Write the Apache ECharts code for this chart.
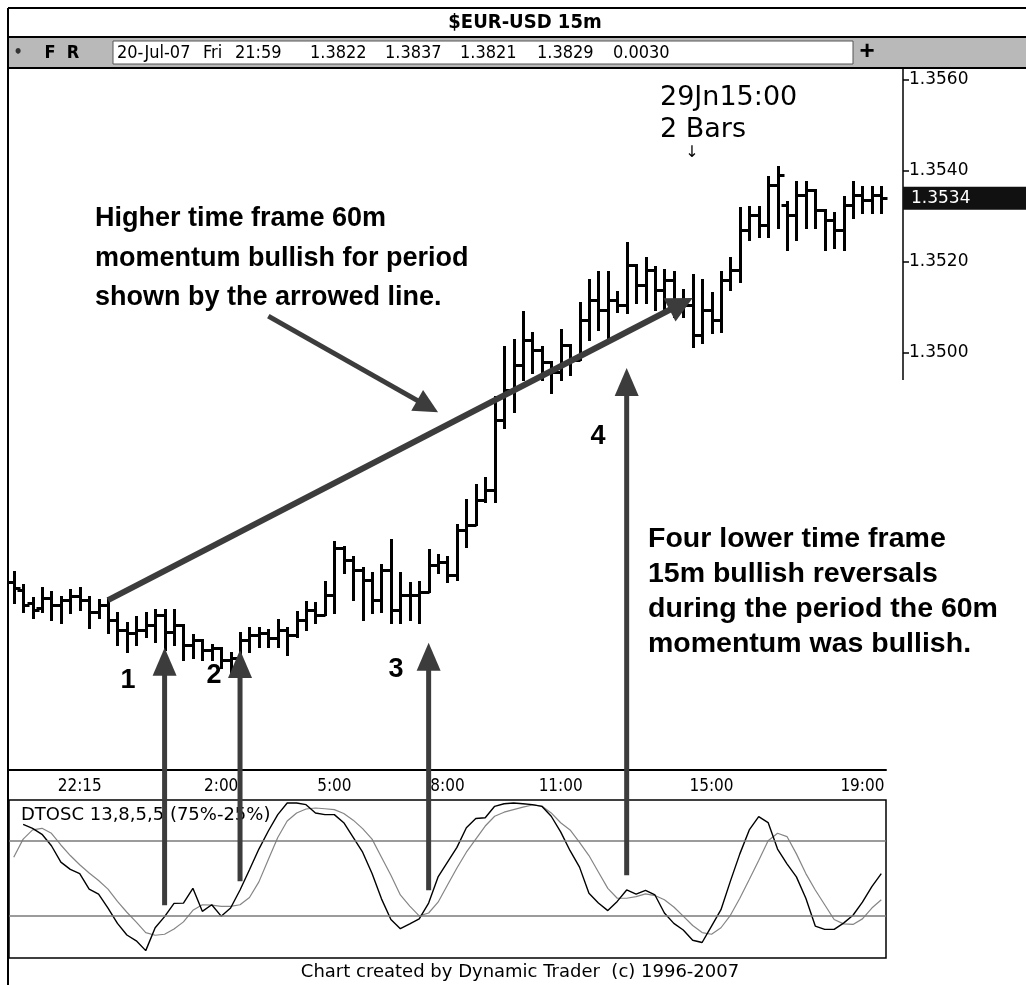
<!DOCTYPE html>
<html>
<head>
<meta charset="utf-8">
<script src="https://cdn.jsdelivr.net/npm/echarts@6/dist/echarts.min.js"></script>
<style>
  html, body { margin: 0; padding: 0; background: #fff; }
  #chart { width: 1026px; height: 985px; }
</style>
</head>
<body>
<div id="chart"></div>
<script>
// 15 minute bars, EUR/USD
var opens = [
  1.34497, 1.34479, 1.34451, 1.34440, 1.34462, 1.34446, 1.34457, 1.34466, 1.34457, 1.34431,
  1.34446, 1.34413, 1.34391, 1.34385, 1.34391, 1.34402, 1.34424, 1.34387, 1.34402, 1.34358,
  1.34369, 1.34347, 1.34352, 1.34325, 1.34330, 1.34369, 1.34380, 1.34385, 1.34374, 1.34391,
  1.34380, 1.34413, 1.34435, 1.34424, 1.34468, 1.34571, 1.34545, 1.34523, 1.34501, 1.34457,
  1.34523, 1.34435, 1.34468, 1.34468, 1.34475, 1.34534, 1.34541, 1.34512, 1.34611, 1.34622,
  1.34677, 1.34699, 1.34853, 1.34919, 1.34974, 1.35029, 1.35007, 1.34980, 1.34958, 1.35018,
  1.34985, 1.35073, 1.35116, 1.35095, 1.35116, 1.35105, 1.35193, 1.35149, 1.35182, 1.35138,
  1.35160, 1.35116, 1.35105, 1.35040, 1.35095, 1.35073, 1.35160, 1.35182, 1.35270, 1.35303,
  1.35281, 1.35369, 1.35325, 1.35303, 1.35347, 1.35358, 1.35314, 1.35292, 1.35270, 1.35325,
  1.35347, 1.35336, 1.35347
];
var highs = [
  1.34519, 1.34490, 1.34462, 1.34484, 1.34475, 1.34464, 1.34479, 1.34484, 1.34464, 1.34457,
  1.34462, 1.34429, 1.34407, 1.34420, 1.34429, 1.34435, 1.34435, 1.34435, 1.34402, 1.34380,
  1.34369, 1.34358, 1.34352, 1.34341, 1.34385, 1.34396, 1.34396, 1.34391, 1.34413, 1.34396,
  1.34431, 1.34453, 1.34451, 1.34497, 1.34585, 1.34574, 1.34552, 1.34527, 1.34516, 1.34534,
  1.34589, 1.34516, 1.34495, 1.34497, 1.34567, 1.34556, 1.34552, 1.34622, 1.34677, 1.34710,
  1.34725, 1.34903, 1.35013, 1.35029, 1.35090, 1.35044, 1.35013, 1.34980, 1.35051, 1.35018,
  1.35110, 1.35160, 1.35178, 1.35178, 1.35134, 1.35242, 1.35193, 1.35209, 1.35189, 1.35182,
  1.35178, 1.35138, 1.35171, 1.35160, 1.35132, 1.35178, 1.35209, 1.35319, 1.35321, 1.35321,
  1.35387, 1.35409, 1.35332, 1.35376, 1.35376, 1.35358, 1.35314, 1.35308, 1.35343, 1.35376,
  1.35365, 1.35365, 1.35365
];
var lows = [
  1.34451, 1.34431, 1.34418, 1.34431, 1.34413, 1.34407, 1.34429, 1.34435, 1.34396, 1.34418,
  1.34385, 1.34358, 1.34343, 1.34358, 1.34376, 1.34365, 1.34347, 1.34358, 1.34325, 1.34330,
  1.34325, 1.34325, 1.34308, 1.34297, 1.34319, 1.34343, 1.34354, 1.34354, 1.34354, 1.34336,
  1.34376, 1.34391, 1.34407, 1.34424, 1.34429, 1.34516, 1.34457, 1.34413, 1.34429, 1.34431,
  1.34407, 1.34407, 1.34413, 1.34407, 1.34475, 1.34516, 1.34497, 1.34501, 1.34574, 1.34622,
  1.34673, 1.34673, 1.34835, 1.34870, 1.34941, 1.34956, 1.34941, 1.34912, 1.34941, 1.34952,
  1.34985, 1.35029, 1.35051, 1.35033, 1.35090, 1.35088, 1.35110, 1.35110, 1.35095, 1.35088,
  1.35079, 1.35079, 1.35013, 1.35022, 1.35044, 1.35046, 1.35138, 1.35156, 1.35248, 1.35255,
  1.35255, 1.35275, 1.35226, 1.35248, 1.35275, 1.35275, 1.35226, 1.35231, 1.35226, 1.35297,
  1.35308, 1.35308, 1.35308
];
var closes = [
  1.34484, 1.34446, 1.34435, 1.34462, 1.34446, 1.34457, 1.34466, 1.34457, 1.34431, 1.34446,
  1.34413, 1.34391, 1.34385, 1.34391, 1.34402, 1.34424, 1.34387, 1.34402, 1.34358, 1.34369,
  1.34347, 1.34352, 1.34325, 1.34330, 1.34369, 1.34380, 1.34385, 1.34374, 1.34391, 1.34380,
  1.34413, 1.34435, 1.34424, 1.34468, 1.34571, 1.34545, 1.34523, 1.34501, 1.34457, 1.34523,
  1.34435, 1.34468, 1.34468, 1.34475, 1.34534, 1.34541, 1.34512, 1.34611, 1.34622, 1.34677,
  1.34699, 1.34853, 1.34919, 1.34974, 1.35029, 1.35007, 1.34980, 1.34958, 1.35018, 1.34985,
  1.35073, 1.35116, 1.35095, 1.35116, 1.35105, 1.35193, 1.35149, 1.35182, 1.35138, 1.35160,
  1.35116, 1.35105, 1.35040, 1.35095, 1.35073, 1.35160, 1.35182, 1.35270, 1.35303, 1.35281,
  1.35369, 1.35391, 1.35303, 1.35347, 1.35358, 1.35314, 1.35292, 1.35270, 1.35325, 1.35347,
  1.35336, 1.35347, 1.35340
];

// DTOSC 13,8,5,5 - fast (black) and slow (gray) lines
var oscFast = [
  null, 85.8, 83.2, 79.2, 71.6, 60.7, 55.9, 53.1, 42.8, 39.4,
  30.2, 20.0, 12.3, 8.4, 1.9, 17.1, 24.5, 33.3, 33.5, 43.3,
  28.0, 32.4, 24.8, 30.2, 42.2, 55.7, 69.4, 81.4, 92.3, 100,
  100, 98.9, 93.4, 92.3, 92.3, 86.9, 77.1, 67.3, 53.1, 36.3,
  22.6, 16.5, 19.7, 23.0, 33.5, 50.9, 60.7, 70.5, 83.6, 89.7,
  90.2, 97.8, 99.5, 100, 99.5, 98.9, 97.8, 91.2, 80.8, 68.3,
  57.4, 40.0, 33.5, 28.5, 34.6, 42.2, 39.4, 42.0, 38.9, 26.9,
  20.0, 15.6, 8.8, 7.3, 18.2, 29.1, 48.1, 66.2, 82.1, 91.0,
  87.0, 69.4, 59.6, 50.9, 36.7, 18.2, 16.0, 16.0, 20.2, 25.4,
  34.1, 44.4, 53.1
];
var oscSlow = [
  64.0, 76.0, 82.1, 83.2, 79.9, 72.1, 65.1, 59.0, 53.5, 48.5,
  42.8, 34.6, 27.4, 20.8, 13.9, 12.1, 12.8, 16.3, 21.0, 28.7,
  32.4, 32.2, 31.3, 31.3, 32.4, 37.2, 47.6, 62.5, 77.1, 88.0,
  93.4, 96.0, 96.7, 96.2, 95.6, 93.0, 88.6, 83.0, 76.0, 64.0,
  52.0, 38.9, 31.5, 25.0, 26.9, 34.1, 45.5, 56.8, 67.3, 76.0,
  84.7, 91.2, 93.9, 95.6, 97.3, 98.7, 98.0, 93.4, 86.9, 82.1,
  73.8, 65.1, 54.2, 43.3, 36.7, 36.7, 37.8, 39.6, 38.5, 35.7,
  30.9, 24.8, 18.6, 13.9, 12.8, 17.1, 25.4, 36.7, 49.2, 61.8,
  74.9, 79.9, 77.7, 66.2, 53.1, 42.2, 32.4, 22.6, 19.7, 19.3,
  23.0, 30.2, 35.7
];
var oscLevels = [75, 25];

// time axis: first bar 20:30, 15 minute steps
var times = [];
for (var i = 0; i < closes.length; i++) {
  var m = 20 * 60 + 30 + i * 15;
  var hh = Math.floor(m / 60) % 24, mm = m % 60;
  times.push(hh + ':' + (mm < 10 ? '0' : '') + mm);
}
var timeLabels = ['22:15', '2:00', '5:00', '8:00', '11:00', '15:00', '19:00'];
var timeTicks = [4, 7, 10, 12, 15, 18, 21, 23, 27, 30, 33, 35, 38, 41, 43, 46, 49, 52, 55, 58, 61, 63, 67, 70, 73, 77, 79, 82, 85, 88, 90];
var priceLabels = ['1.3500', '1.3520', '1.3540', '1.3560'];

// annotations, in bar index / price / oscillator units
var trendArrow = [[10, 1.34457], [71.5, 1.35121]];
var pointerArrow = [[26.6, 1.35081], [45.3, 1.34870]];
// [bar, oscillator value at tail, price at tip]
var reversalArrows = [[16, 32, 1.34352], [24, 48, 1.34347], [44, 42, 1.34363], [65, 52, 1.34967]];

var bars = times.map(function (t, i) {
  return [i, opens[i], highs[i], lows[i], closes[i]];
});

var chart = echarts.init(document.getElementById('chart'));

// snap to pixel centres so the 3px strokes stay crisp
function px (v) { return Math.round(v) + 0.5 }

function renderBar (params, api) {
  var i = api.value(0);
  var o = api.coord([i, api.value(1)]);
  var h = api.coord([i, api.value(2)]);
  var l = api.coord([i, api.value(3)]);
  var c = api.coord([i, api.value(4)]);
  var x = px(h[0]);
  return {
    type: 'group',
    children: [
      { type: 'line', shape: { x1: x, y1: Math.round(h[1]) - 1, x2: x, y2: Math.round(l[1]) + 1 }, style: { stroke: '#000', lineWidth: 3 } },
      { type: 'line', shape: { x1: x - 6, y1: px(o[1]), x2: x, y2: px(o[1]) }, style: { stroke: '#000', lineWidth: 3 } },
      { type: 'line', shape: { x1: x, y1: px(c[1]), x2: x + 6, y2: px(c[1]) }, style: { stroke: '#000', lineWidth: 3 } }
    ]
  };
}

var condFont = "'DejaVu Sans Condensed', 'Liberation Sans Narrow', 'DejaVu Sans', sans-serif";
var sansFont = "'DejaVu Sans', sans-serif";
var boldFont = "'Liberation Sans', Arial, sans-serif";

var option = {
  animation: false,
  backgroundColor: '#fff',
  grid: [
    { left: 9, top: 68, width: 877, height: 649 },
    { left: 9, top: 800, width: 877, height: 158, show: true, borderColor: '#000', borderWidth: 1.5, backgroundColor: 'transparent' }
  ],
  xAxis: [
    {
      type: 'category', gridIndex: 0, data: times, position: 'bottom', offset: 53,
      axisLine: { lineStyle: { color: '#000', width: 2 } },
      axisTick: {
        alignWithLabel: true, length: 8, lineStyle: { color: '#000', width: 1.5 },
        interval: function (idx) { return timeTicks.indexOf(idx) >= 0 }
      },
      axisLabel: {
        color: '#000', fontFamily: condFont, fontSize: 17, margin: 8,
        interval: function (idx, val) { return timeLabels.indexOf(val) >= 0 }
      },
      splitLine: { show: false }
    },
    { type: 'category', gridIndex: 1, data: times, show: false }
  ],
  yAxis: [
    {
      type: 'value', gridIndex: 0, position: 'right', offset: 17,
      min: 1.3420, max: 1.3562637, interval: 0.002,
      axisLine: { show: false }, axisTick: { show: false }, splitLine: { show: false },
      axisLabel: {
        color: '#000', fontFamily: sansFont, fontSize: 17, margin: 6,
        formatter: function (v) {
          var s = v.toFixed(4);
          return priceLabels.indexOf(s) >= 0 ? s : '';
        }
      }
    },
    { type: 'value', gridIndex: 1, min: -3, max: 102, show: false, splitLine: { show: false } }
  ],
  series: [
    {
      type: 'custom', name: 'EUR-USD', xAxisIndex: 0, yAxisIndex: 0,
      renderItem: renderBar, data: bars, encode: { x: 0, y: [1, 2, 3, 4] }, clip: false
    },
    {
      type: 'line', name: 'slow', xAxisIndex: 1, yAxisIndex: 1, data: oscSlow,
      showSymbol: false, symbol: 'none', lineStyle: { color: '#858585', width: 1.2 },
      markLine: {
        silent: true, symbol: 'none', label: { show: false },
        lineStyle: { color: '#7a7a7a', width: 1.5, type: 'solid' },
        data: oscLevels.map(function (v) { return { yAxis: v } })
      }
    },
    {
      type: 'line', name: 'fast', xAxisIndex: 1, yAxisIndex: 1, data: oscFast,
      showSymbol: false, symbol: 'none', lineStyle: { color: '#000', width: 1.4 }
    }
  ]
};
chart.setOption(option);

var arrowInk = '#3c3c3c';
function arrowEls (p0, p1, width, headLen, headHalf) {
  var dx = p1[0] - p0[0], dy = p1[1] - p0[1];
  var len = Math.sqrt(dx * dx + dy * dy);
  var ux = dx / len, uy = dy / len, nx = -uy, ny = ux;
  var bx = p1[0] - ux * headLen, by = p1[1] - uy * headLen;
  return [
    { type: 'line', z: 100, shape: { x1: p0[0], y1: p0[1], x2: bx + ux * 3, y2: by + uy * 3 }, style: { stroke: arrowInk, lineWidth: width } },
    { type: 'polygon', z: 100, shape: { points: [[p1[0], p1[1]], [bx + nx * headHalf, by + ny * headHalf], [bx - nx * headHalf, by - ny * headHalf]] }, style: { fill: arrowInk } }
  ];
}
function toPrice (p) { return chart.convertToPixel({ xAxisIndex: 0, yAxisIndex: 0 }, p) }
function toOsc (p) { return chart.convertToPixel({ xAxisIndex: 1, yAxisIndex: 1 }, p) }
function line (x1, y1, x2, y2, w, c) {
  return { type: 'line', z: 90, shape: { x1: x1, y1: y1, x2: x2, y2: y2 }, style: { stroke: c || '#000', lineWidth: w || 2 } };
}
function txt (x, y, s, font, opts) {
  opts = opts || {};
  return {
    type: 'text', z: 95, x: x, y: y,
    style: {
      text: s, font: font, fill: opts.fill || '#000',
      textAlign: opts.align || 'left', textVerticalAlign: opts.va || 'middle',
      lineHeight: opts.lh
    }
  };
}

var g = [];
// frame and header bars
g.push({ type: 'rect', z: 80, shape: { x: 8, y: 38, width: 1018, height: 30 }, style: { fill: '#b9b9b9' } });
g.push({ type: 'rect', z: 81, shape: { x: 113, y: 41, width: 740, height: 23 }, style: { fill: '#fff', stroke: '#555', lineWidth: 1 } });
g.push(line(8, 8, 1026, 8, 2));
g.push(line(8, 8, 8, 985, 2));
g.push(line(8, 37, 1026, 37, 2));
g.push(line(8, 68, 1026, 68, 2));
g.push(txt(525, 23, '$EUR-USD 15m', 'bold 20px ' + condFont, { align: 'center' }));
g.push(txt(18, 53, '\u2022', 'bold 16px ' + condFont, { align: 'center', fill: '#333' }));
g.push(txt(50, 53, 'F', 'bold 18px ' + condFont, { align: 'center' }));
g.push(txt(73, 53, 'R', 'bold 18px ' + condFont, { align: 'center' }));
g.push(txt(867, 52, '+', 'bold 26px ' + boldFont, { align: 'center' }));
var hdr = [[117, '20-Jul-07'], [203, 'Fri'], [235, '21:59'], [310, '1.3822'], [385, '1.3837'], [460, '1.3821'], [537, '1.3829'], [613, '0.0030']];
hdr.forEach(function (h) { g.push(txt(h[0], 53, h[1], '18px ' + condFont)); });

// price axis line, ticks and last price flag
g.push(line(903, 68, 903, 380, 1.5));
priceLabels.forEach(function (p) {
  var y = toPrice([0, +p])[1];
  g.push(line(903, y, 909, y, 1.5));
});
var last = closes[closes.length - 1];
var yl = toPrice([0, last])[1];
g.push({ type: 'rect', z: 92, shape: { x: 903, y: yl - 11.5, width: 123, height: 23 }, style: { fill: '#111' } });
g.push(txt(911, yl, last.toFixed(4), '17px ' + sansFont, { fill: '#fff' }));

// oscillator caption and footer
g.push(txt(21, 815, 'DTOSC 13,8,5,5 (75%-25%)', '18px ' + sansFont));
g.push(txt(520, 972, 'Chart created by Dynamic Trader  (c) 1996-2007', '18px ' + sansFont, { align: 'center' }));

// annotation texts
var bf = 'bold 27px ' + boldFont;
g.push(txt(95, 199, 'Higher time frame 60m\nmomentum bullish for period\nshown by the arrowed line.', bf, { va: 'top', lh: 39.5 }));
g.push(txt(648, 522, 'Four lower time frame\n15m bullish reversals\nduring the period the 60m\nmomentum was bullish.', 'bold 28.5px ' + boldFont, { va: 'top', lh: 35 }));
g.push(txt(660, 98, '29Jn15:00', '27px ' + sansFont));
g.push(txt(660, 130, '2 Bars', '27px ' + sansFont));
g.push(txt(692, 153, '\u2193', '16px ' + sansFont, { align: 'center' }));
g.push(txt(128, 681, '1', bf, { align: 'center' }));
g.push(txt(214, 676, '2', bf, { align: 'center' }));
g.push(txt(396, 670, '3', bf, { align: 'center' }));
g.push(txt(598, 437, '4', bf, { align: 'center' }));

// arrows
g = g.concat(arrowEls(toPrice(trendArrow[0]), toPrice(trendArrow[1]), 6, 26, 13));
g = g.concat(arrowEls(toPrice(pointerArrow[0]), toPrice(pointerArrow[1]), 5, 24, 12));
reversalArrows.forEach(function (a) {
  g = g.concat(arrowEls(toOsc([a[0], a[1]]), toPrice([a[0], a[2]]), 5, 28, 12));
});

chart.setOption({ graphic: { elements: g } });
</script>
</body>
</html>
